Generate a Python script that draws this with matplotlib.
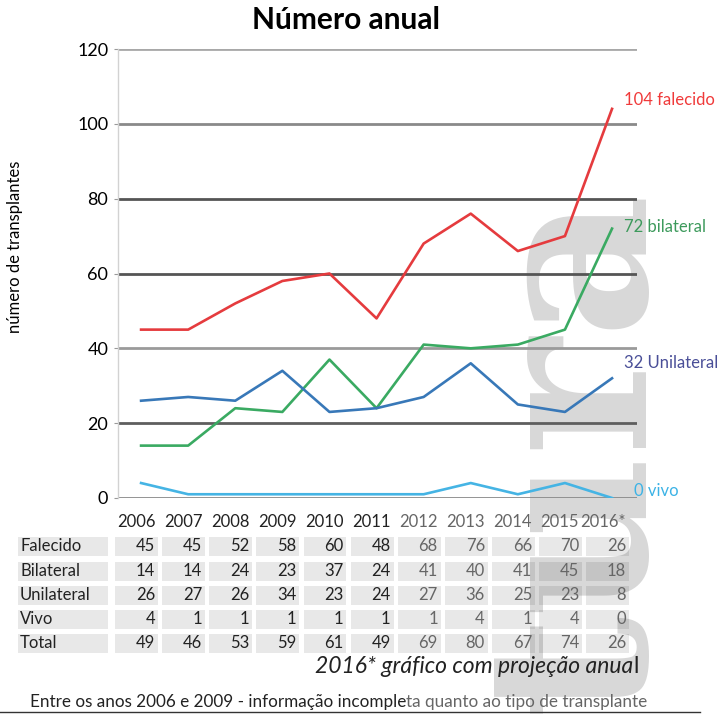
import matplotlib
matplotlib.use("Agg")
import matplotlib.pyplot as plt
import matplotlib.transforms as mtransforms
from matplotlib.patches import Rectangle
import numpy as np

plt.rcParams["font.family"] = ["Lato", "DejaVu Sans"]

# dados
anos = ["2006", "2007", "2008", "2009", "2010", "2011",
        "2012", "2013", "2014", "2015", "2016*"]
falecido = [45, 45, 52, 58, 60, 48, 68, 76, 66, 70, 104]
bilateral = [14, 14, 24, 23, 37, 24, 41, 40, 41, 45, 72]
unilateral = [26, 27, 26, 34, 23, 24, 27, 36, 25, 23, 32]
vivo = [4, 1, 1, 1, 1, 1, 1, 4, 1, 4, 0]

linhas_tabela = ["Falecido", "Bilateral", "Unilateral", "Vivo", "Total"]
tab_falecido = [45, 45, 52, 58, 60, 48, 68, 76, 66, 70, 26]
tab_bilateral = [14, 14, 24, 23, 37, 24, 41, 40, 41, 45, 18]
tab_unilateral = [26, 27, 26, 34, 23, 24, 27, 36, 25, 23, 8]
tab_vivo = [4, 1, 1, 1, 1, 1, 1, 4, 1, 4, 0]
tab_total = [49, 46, 53, 59, 61, 49, 69, 80, 67, 74, 26]

grid_y = [20, 40, 60, 80, 100, 120]
grid_cor = ["#5e5e5e", "#9a9a9a", "#555555", "#555555", "#8a8a8a", "#a8a8a8"]

W, H = 721, 715
fig = plt.figure(figsize=(W / 100, H / 100), dpi=100)
fig.patch.set_facecolor("white")

# marca d'agua ao fundo
fig.text(580 / W, 1 - 450 / H, "tura", rotation=90, fontsize=160,
         family="DejaVu Serif", weight="bold", color="#d8d8d8",
         ha="center", va="center", zorder=-5)

ax = fig.add_axes([118 / W, 217 / H, 519 / W, 449 / H])
ax.set_facecolor("none")
x = np.arange(len(anos))

for yv, c in zip(grid_y, grid_cor):
    ax.axhline(yv, color=c, lw=2.0, zorder=1)
ax.axhline(0, color="#8a8a8a", lw=2.0, zorder=1)

ax.plot(x, falecido, color="#e53b3e", lw=1.9, zorder=3)
ax.plot(x, bilateral, color="#3aaa62", lw=1.9, zorder=3)
ax.plot(x, unilateral, color="#3878b8", lw=1.9, zorder=3)
ax.plot(x, vivo, color="#45b4e4", lw=1.9, zorder=3)

ax.set_xlim(-0.49, 10.53)
ax.set_ylim(0, 120)
ax.set_xticks([])
ax.set_yticks([0, 20, 40, 60, 80, 100, 120])
ax.tick_params(axis="y", length=3, color="#999999", labelsize=13, pad=4)
for s in ["top", "right", "bottom"]:
    ax.spines[s].set_visible(False)
ax.spines["left"].set_color("#d2d2d2")
ax.spines["left"].set_linewidth(1)

ax.text(10.25, 106.5, "104 falecido", color="#f03a3a", fontsize=12, va="center")
ax.text(10.25, 72.5, "72 bilateral", color="#3d9a5c", fontsize=12, va="center")
ax.text(10.25, 36, "32 Unilateral", color="#4a4f98", fontsize=12, va="center")
ax.text(10.47, 2, "0 vivo", color="#3cb3e6", fontsize=12, va="center")

fig.text(15 / W, 1 - 247 / H, "número de transplantes", rotation=90,
         fontsize=12, ha="center", va="center")
fig.text(346 / W, 1 - 20 / H, "Número anual", fontsize=21.5, weight="bold",
         ha="center", va="center")

# tabela
trans = mtransforms.blended_transform_factory(ax.transData, fig.transFigure)
h = 19 / H
y_head = 1 - 522 / H
for i, a in enumerate(anos):
    cor = "#222222" if i < 6 else "#666666"
    ax.text(i + 0.3, y_head, a, transform=trans, ha="right", va="center",
            fontsize=12, color=cor, clip_on=False)

valores = [tab_falecido, tab_bilateral, tab_unilateral, tab_vivo, tab_total]
y_rows = [546, 571, 595, 619, 643]
for nome, vals, yp in zip(linhas_tabela, valores, y_rows):
    yc = 1 - yp / H
    fig.add_artist(Rectangle((18 / W, yc - h / 2), 90 / W, h,
                             transform=fig.transFigure, facecolor="black",
                             alpha=0.09, lw=0))
    fig.text(20 / W, yc, nome, fontsize=12, color="#222222", va="center")
    for i, v in enumerate(vals):
        r = Rectangle((i - 0.55, yc - h / 2), 0.91, h, transform=trans,
                      facecolor="black", alpha=0.09, lw=0, clip_on=False)
        ax.add_patch(r)
        cor = "#222222" if i < 6 else "#666666"
        ax.text(i + 0.3, yc, str(v), transform=trans, ha="right",
                va="center", fontsize=12, color=cor, clip_on=False)

fig.text(633 / W, 1 - 673 / H, "2016* gráfico com projeção anua",
         style="italic", fontsize=16.5, ha="right", va="baseline",
         color="#222222")
fig.text(633 / W, 1 - 673 / H, "l", fontsize=16.5, ha="left", va="baseline",
         color="#222222")

t2 = fig.text(30 / W, 1 - 702 / H,
              "Entre os anos 2006 e 2009 - informação incomple",
              fontsize=12.3, va="center", color="#222222")
ax.annotate("ta quanto ao tipo de transplante", xy=(1, 0), xycoords=t2,
            va="bottom", fontsize=12.3, color="#666666",
            annotation_clip=False)

fig.add_artist(plt.Line2D([0, 700 / W], [1 - 712 / H, 1 - 712 / H],
                          transform=fig.transFigure, color="#333333", lw=1))

fig.savefig("out.png", dpi=100)
